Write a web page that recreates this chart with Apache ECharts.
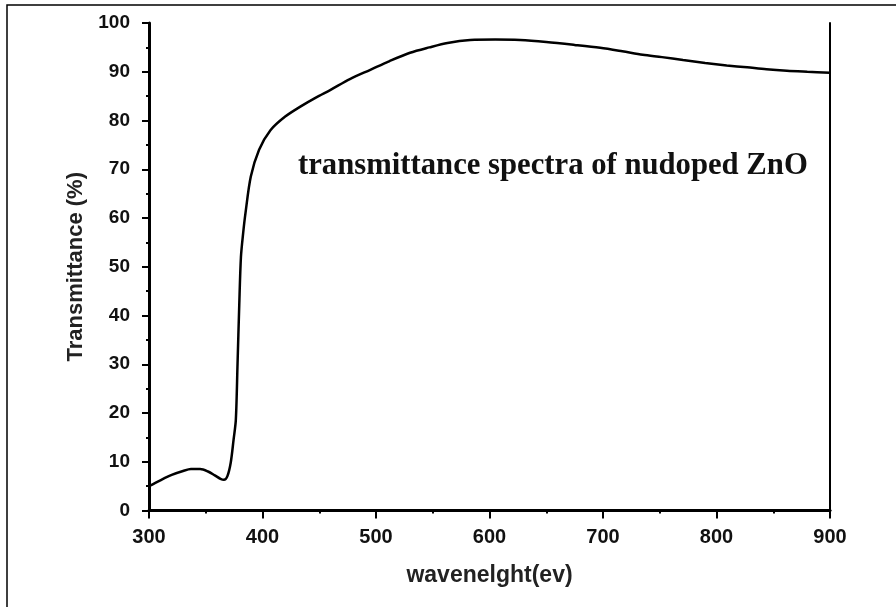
<!DOCTYPE html>
<html>
<head>
<meta charset="utf-8">
<script src="https://cdn.jsdelivr.net/npm/echarts@6/dist/echarts.min.js"></script>
<style>html,body{margin:0;padding:0;background:#fff;}#c{width:896px;height:607px;}</style>
</head>
<body>
<div id="c"></div>
<script>
var wavelength = [300,310,320,330,337,345,352,358,363,366,369,372,374.5,376.5,378,379.5,381,383,385,389.7,397,407,420,433.7,447,460,477,495,512,530,547,563,583,605,627,650,675,697.5,717,735,752,770.5,790,809,827,844,862,880,900];
var transmittance = [5,6.2,7.3,8.1,8.5,8.5,8,7.2,6.5,6.3,7,9.8,14.5,18.6,30,42,52,57,61,68.5,74,78,80.8,82.9,84.7,86.3,88.5,90.4,92.2,93.9,95,95.9,96.5,96.6,96.5,96.1,95.5,94.9,94.2,93.5,93,92.4,91.8,91.3,90.9,90.5,90.2,90,89.8];
var xTitle = 'wavenelght(ev)';
var yTitle = 'Transmittance (%)';
var annotation = 'transmittance spectra of nudoped ZnO';

var pts = wavelength.map(function(w, i){ return [w, transmittance[i]]; });
var chart = echarts.init(document.getElementById('c'));
var ff = 'Liberation Sans, Arial, sans-serif';
chart.setOption({
  animation:false,
  backgroundColor:'#fff',
  grid:{left:149, right:66, top:23, bottom:96.5},
  graphic:[
    {type:'rect', shape:{x:7, y:5, width:1000, height:1000}, style:{fill:'none', stroke:'#000', lineWidth:1.5}, silent:true},
    {type:'text', x:298, y:166, style:{text:annotation, font:'bold 30.7px "Liberation Serif", "Times New Roman", serif', fill:'#111', verticalAlign:'middle'}}
  ],
  xAxis:[{
    type:'value', min:300, max:900, interval:100,
    name:xTitle, nameLocation:'middle', nameGap:54,
    nameTextStyle:{fontFamily:ff, fontSize:23, fontWeight:'bold', color:'#222'},
    axisLine:{show:true, onZero:false, lineStyle:{color:'#000', width:3}},
    axisTick:{show:true, inside:false, length:8, lineStyle:{color:'#000', width:2}},
    minorTick:{show:true, splitNumber:2, length:3, lineStyle:{color:'#000', width:2}},
    axisLabel:{margin:17, fontFamily:ff, fontSize:20, fontWeight:'bold', color:'#111'},
    splitLine:{show:false}
  },{
    type:'value', position:'top', min:300, max:900,
    axisLine:{show:true, lineStyle:{color:'#000', width:2.5}},
    axisTick:{show:false}, axisLabel:{show:false}, splitLine:{show:false}
  }],
  yAxis:[{
    type:'value', min:0, max:100, interval:10,
    name:yTitle, nameLocation:'middle', nameGap:60,
    nameTextStyle:{fontFamily:ff, fontSize:22, fontWeight:'bold', color:'#222'},
    axisLine:{show:true, onZero:false, lineStyle:{color:'#000', width:3}},
    axisTick:{show:true, inside:false, length:7, lineStyle:{color:'#000', width:2}},
    minorTick:{show:true, splitNumber:2, length:3, lineStyle:{color:'#000', width:2}},
    axisLabel:{margin:19, fontFamily:ff, fontSize:19, fontWeight:'bold', color:'#111'},
    splitLine:{show:false}
  },{
    type:'value', position:'right', min:0, max:100,
    axisLine:{show:true, lineStyle:{color:'#000', width:2}},
    axisTick:{show:false}, axisLabel:{show:false}, splitLine:{show:false}
  }],
  series:[{
    type:'line', data:pts, showSymbol:false, smooth:0.3,
    lineStyle:{color:'#000', width:2.5}, z:3
  }]
});
</script>
</body>
</html>
